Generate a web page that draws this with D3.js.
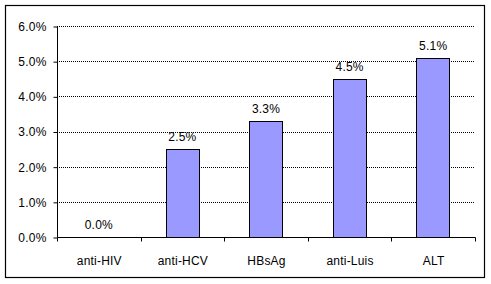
<!DOCTYPE html>
<html><head><meta charset="utf-8">
<script src="https://cdn.jsdelivr.net/npm/d3@7"></script>
<style>body{margin:0;background:#fff}svg{display:block}text{font-family:"Liberation Sans",Arial,sans-serif;font-size:12px;letter-spacing:0.2px;fill:#000}</style>
</head><body><svg id="c" width="491" height="284"></svg>
<script>
const categories = ["anti-HIV","anti-HCV","HBsAg","anti-Luis","ALT"];
const values = [0.0, 2.5, 3.3, 4.5, 5.1];
const yTicks = [0,1,2,3,4,5,6];

const svg = d3.select("#c");
const m = {left:57, right:475, top:26, bottom:237};
svg.append("rect").attr("x",5.5).attr("y",5.5).attr("width",479).attr("height",272)
  .attr("fill","#fff").attr("stroke","#000").attr("stroke-width",1.2);

const x = d3.scaleBand().domain(categories).range([m.left,m.right]).paddingInner(0.6).paddingOuter(0.3);
const y = d3.scaleLinear().domain([0,6]).range([m.bottom,m.top]);

// gridlines
svg.append("g").selectAll("line").data(yTicks.filter(d=>d>0)).join("line")
  .attr("x1",m.left).attr("x2",m.right)
  .attr("y1",d=>Math.round(y(d))+0.5).attr("y2",d=>Math.round(y(d))+0.5)
  .attr("stroke","#000").attr("stroke-width",1).attr("stroke-dasharray","1,1");

// bars
svg.append("g").selectAll("rect").data(values).join("rect")
  .attr("x",(d,i)=>Math.round(x(categories[i]))+0.5)
  .attr("y",d=>Math.round(y(d))+0.5)
  .attr("width",Math.round(x.bandwidth()))
  .attr("height",d=>Math.round(y(0))-Math.round(y(d)))
  .attr("fill","#9999FF").attr("stroke","#000").attr("stroke-width",1)
  .style("display",d=>d>0?null:"none");

// data labels
svg.append("g").selectAll("text").data(values).join("text")
  .attr("x",(d,i)=>x(categories[i])+x.bandwidth()/2)
  .attr("y",d=>y(d)-8)
  .attr("text-anchor","middle")
  .text(d=>d.toFixed(1)+"%");

// y axis
const yAxis = d3.axisLeft(y).tickValues(yTicks).tickSize(4).tickPadding(7).tickFormat(d=>d.toFixed(1)+"%");
const gy = svg.append("g").attr("transform",`translate(${m.left+0.5},0.5)`).call(yAxis);
gy.select(".domain").attr("d",`M0,${m.top}V${m.bottom}`);
gy.attr("font-size",null).attr("font-family",null);

// x axis
const xb = d3.scaleLinear().domain([0,5]).range([m.left,m.right]);
const gx = svg.append("g").attr("transform",`translate(0.5,${m.bottom+0.5})`);
gx.append("line").attr("x1",m.left).attr("x2",m.right).attr("stroke","#000");
gx.selectAll("line.t").data(d3.range(6)).join("line").attr("class","t")
  .attr("x1",d=>Math.round(xb(d))).attr("x2",d=>Math.round(xb(d))).attr("y1",0).attr("y2",4).attr("stroke","#000");
gx.selectAll("text").data(categories).join("text")
  .attr("x",d=>x(d)+x.bandwidth()/2).attr("y",27).attr("text-anchor","middle").text(d=>d);
svg.selectAll(".tick text").attr("fill","#000");
</script></body></html>
